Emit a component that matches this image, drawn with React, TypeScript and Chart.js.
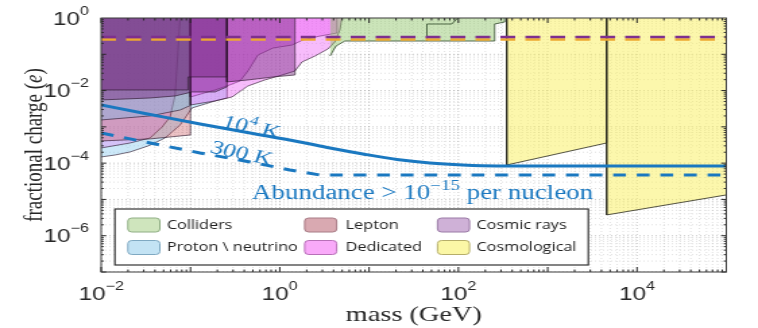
import React, { useEffect, useRef } from 'react';
import { Chart, registerables } from 'chart.js';

Chart.register(...registerables);

// The reference figure is horizontally stretched; draw narrow, then stretch.
const OUT_W = 758;
const H = 328;
const W = 562;

const X_MIN = 1e-2, X_MAX = 1e5, Y_MIN = 1e-7, Y_MAX = 1;
const xTickExponents = [-2, 0, 2, 4];
const yTickExponents = [0, -2, -4, -6];

// ---- Regions (lower boundary, excluded area above) ----
const collidersMass = [3.65, 4.26, 5.36, 255, 255, 330, 330];
const collidersCharge = [0.0897, 0.169, 0.232, 0.232, 0.684, 0.776, 1];
const collidersInnerMass = [44.4, 44.4, 84.3, 98.4];
const collidersInnerCharge = [0.232, 0.684, 0.684, 1];

const protonMassA = [0.01, 0.0144, 0.0211, 0.0336, 0.052, 0.0766, 0.104, 0.146, 0.188, 0.256, 0.256];
const protonChargeA = [1.48e-4, 1.68e-4, 2.04e-4, 2.98e-4, 4.94e-4, 1.13e-3, 3.32e-3, 4.27e-3, 5.17e-3, 6.25e-3, 1];
const protonMassB = [0.01, 0.0353, 0.0766, 0.1, 0.1];
const protonChargeB = [1.55e-3, 2.0e-3, 2.92e-3, 3.9e-3, 1];

const leptonMass = [0.01, 0.0353, 0.1, 0.1];
const leptonCharge = [4.09e-4, 4.65e-4, 5.98e-4, 1];

const dedicatedMassA = [0.01, 0.0211, 0.0353, 0.0481, 0.0592, 0.0673, 0.0726, 0.0766];
const dedicatedChargeA = [2.62e-4, 3.6e-4, 4.94e-4, 9.93e-4, 1.87e-3, 7.57e-3, 0.131, 1];
const dedicatedMassB = [0.1, 0.1, 0.188, 0.256, 0.359, 0.44, 0.57, 0.84, 1.37, 1.82, 2.82, 4.37, 4.37];
const dedicatedChargeB = [1, 6.67e-3, 0.0104, 0.0134, 0.0184, 0.0347, 0.0957, 0.149, 0.18, 0.248, 0.319, 0.386, 1];
const dedicatedMassC = [0.1, 0.1, 0.188, 0.292, 0.44, 0.68, 1.06, 1.48, 1.77, 2.48, 3.46, 4.14, 4.71, 4.97];
const dedicatedChargeC = [1, 4.01e-3, 5.17e-3, 6.67e-3, 1.34e-2, 1.96e-2, 2.69e-2, 3.47e-2, 6.14e-2, 8.97e-2, 0.14, 0.218, 0.467, 1];

const cosmicMassA = [0.01, 0.094, 0.094, 0.256, 0.256];
const cosmicChargeA = [0.0104, 0.0104, 0.0237, 0.0237, 1];
const cosmicMassB = [0.01, 0.0353, 0.0673, 0.104, 0.188, 0.256, 0.256];
const cosmicChargeB = [5.51e-3, 6.25e-3, 7.1e-3, 9.14e-3, 9.14e-3, 0.0126, 1];
const cosmicMassC = [0.256, 0.256, 0.44, 0.84, 1.48, 1.48];
const cosmicChargeC = [1, 0.0173, 0.0196, 0.0237, 0.0269, 1];

const cosmoMassA = [348, 348, 4570, 4570];
const cosmoChargeA = [1, 8.9e-5, 3.6e-4, 1];
const cosmoMassB = [4570, 4570, 1e5];
const cosmoChargeB = [1, 3.74e-6, 1.33e-5];

// ---- Abundance lines ----
const tenKMass = [0.01, 0.0353, 0.128, 0.465, 1.68, 3.65, 8.53, 20.5, 47.9, 112, 269, 1e5];
const tenKCharge = [4.01e-3, 2.2e-3, 1.2e-3, 6.79e-4, 3.84e-4, 2.62e-4, 1.79e-4, 1.26e-4, 1.01e-4, 8.9e-5, 8.4e-5, 8.4e-5];
const threeHundredKMass = [0.01, 0.0353, 0.128, 0.465, 1.3, 2.82, 1e5];
const threeHundredKCharge = [6.79e-4, 3.6e-4, 1.91e-4, 1.08e-4, 6.5e-5, 4.7e-5, 4.7e-5];
const fullMassSpan = [0.01, 1e5];
const dashedPurpleCharge = [0.3, 0.3];
const dashedOrangeCharge = [0.256, 0.256];

const legendRows = [
  ['Colliders', 'Lepton', 'Cosmic rays'],
  ['Proton \\ neutrino', 'Dedicated', 'Cosmological'],
];

const SANS = '"Liberation Sans", Arial, sans-serif';
const SERIF = '"Liberation Serif", "Times New Roman", serif';
const LEGEND_FONT = '"Open Sans", sans-serif';
const INK = '#262626';
const BLUE = '#1a78c0';

const FILL = {
  colliders: 'rgba(140,195,100,0.45)',
  proton: 'rgba(110,190,235,0.35)',
  lepton: 'rgba(200,80,90,0.35)',
  dedicatedLow: 'rgba(235,80,245,0.25)',
  dedicated: 'rgba(235,80,245,0.38)',
  cosmic: 'rgba(110,30,120,0.42)',
  cosmo: 'rgba(250,240,90,0.5)',
};
const SWATCH: Record<string, [string, string]> = {
  'Colliders': ['#cfe5bd', '#8fae84'],
  'Proton \\ neutrino': ['#c3e3f4', '#7fa9c2'],
  'Lepton': ['#d9a9b1', '#a87c86'],
  'Dedicated': ['#f9aaf9', '#b870b8'],
  'Cosmic rays': ['#cfb1d7', '#9a7aa6'],
  'Cosmological': ['#fbf7a6', '#b6ae6a'],
};

type Piece = { t: string; sup?: boolean; italic?: boolean };

function drawPieces(ctx: any, pieces: Piece[], x: number, y: number, size: number, family: string,
  align: 'left' | 'center' | 'right', color: string, supRatio = 0.68, supRise = 0.45) {
  const supSize = Math.round(size * supRatio);
  const fontOf = (p: Piece) => `${p.italic ? 'italic ' : ''}${p.sup ? supSize : size}px ${family}`;
  let total = 0;
  const widths = pieces.map((p) => {
    ctx.font = fontOf(p);
    const w = ctx.measureText(p.t).width;
    total += w;
    return w;
  });
  let cx = align === 'left' ? x : align === 'center' ? x - total / 2 : x - total;
  ctx.fillStyle = color;
  ctx.textAlign = 'left';
  ctx.textBaseline = 'alphabetic';
  pieces.forEach((p, i) => {
    ctx.font = fontOf(p);
    ctx.fillText(p.t, cx, p.sup ? y - size * supRise : y);
    cx += widths[i];
  });
}

const supLabel = (e: number): Piece[] => [{ t: '10' }, { t: e < 0 ? `\u2212${-e}` : `${e}`, sup: true }];

export default function App() {
  const ref = useRef<HTMLCanvasElement>(null);

  useEffect(() => {
    const canvas = ref.current!;
    const pts = (xs: number[], ys: number[]) => xs.map((x, i) => ({ x, y: ys[i] }));
    const region = (label: string, xs: number[], ys: number[], fill: string, border: string) => ({
      label, data: pts(xs, ys), fill: 'end', backgroundColor: fill, borderColor: border,
      borderWidth: 1, pointRadius: 0, tension: 0,
    });
    const edge = 'rgba(40,20,40,0.62)';
    const line = (label: string, xs: number[], ys: number[], color: string, width: number, dash: number[] | null, smooth = false) => ({
      label, data: pts(xs, ys), fill: false, borderColor: color, borderWidth: width,
      borderDash: dash || [], pointRadius: 0, tension: 0,
      cubicInterpolationMode: smooth ? 'monotone' : 'default',
      borderCapStyle: 'butt',
    });

    // bottom -> top
    const layers: any[] = [
      region('Cosmological A', cosmoMassA, cosmoChargeA, FILL.cosmo, 'rgba(40,40,30,0.8)'),
      region('Cosmological B', cosmoMassB, cosmoChargeB, FILL.cosmo, 'rgba(40,40,30,0.8)'),
      region('Proton A', protonMassA, protonChargeA, FILL.proton, edge),
      region('Dedicated A', dedicatedMassA, dedicatedChargeA, FILL.dedicatedLow, edge),
      region('Lepton', leptonMass, leptonCharge, FILL.lepton, edge),
      region('Proton B', protonMassB, protonChargeB, FILL.proton, edge),
      region('Dedicated B', dedicatedMassB, dedicatedChargeB, FILL.dedicated, edge),
      region('Dedicated C', dedicatedMassC, dedicatedChargeC, FILL.dedicated, edge),
      region('Cosmic B', cosmicMassB, cosmicChargeB, FILL.cosmic, edge),
      region('Cosmic A', cosmicMassA, cosmicChargeA, FILL.cosmic, edge),
      region('Cosmic C', cosmicMassC, cosmicChargeC, FILL.cosmic, edge),
      region('Colliders', collidersMass, collidersCharge, FILL.colliders, 'rgba(35,60,30,0.75)'),
      line('Colliders inner', collidersInnerMass, collidersInnerCharge, 'rgba(35,60,30,0.75)', 1, null),
      line('1/3 orange', fullMassSpan, dashedOrangeCharge, '#EDA830', 2.4, [11, 7.5]),
      line('1/3 purple', fullMassSpan, dashedPurpleCharge, '#7E2F8E', 2.4, [11, 7.5]),
      line('300 K', threeHundredKMass, threeHundredKCharge, BLUE, 3, [9.5, 8]),
      line('1e4 K', tenKMass, tenKCharge, BLUE, 3, null, true),
    ];
    const datasets = layers.slice().reverse();

    const overlay = {
      id: 'overlay',
      beforeDatasetsDraw(chart: any) {
        const { ctx, chartArea: a, scales } = chart;
        const xs = scales.x, ys = scales.y;
        ctx.save();
        ctx.beginPath();
        ctx.rect(a.left, a.top, a.right - a.left, a.bottom - a.top);
        ctx.clip();
        ctx.lineWidth = 1;
        ctx.setLineDash([1, 2]);
        for (let e = -2; e <= 4; e++) {
          for (let k = 1; k <= 9; k++) {
            const px = xs.getPixelForValue(k * Math.pow(10, e));
            ctx.strokeStyle = k === 1 ? 'rgba(0,0,0,0.22)' : 'rgba(0,0,0,0.13)';
            ctx.beginPath(); ctx.moveTo(px, a.top); ctx.lineTo(px, a.bottom); ctx.stroke();
          }
        }
        for (let e = -7; e <= -1; e++) {
          for (let k = 1; k <= 9; k++) {
            const py = ys.getPixelForValue(k * Math.pow(10, e));
            ctx.strokeStyle = k === 1 ? 'rgba(0,0,0,0.22)' : 'rgba(0,0,0,0.13)';
            ctx.beginPath(); ctx.moveTo(a.left, py); ctx.lineTo(a.right, py); ctx.stroke();
          }
        }
        ctx.restore();
      },
      afterDatasetsDraw(chart: any) {
        const { ctx, chartArea: a, scales } = chart;
        const xs = scales.x, ys = scales.y;
        ctx.save();
        // tick marks (inside, all sides)
        ctx.strokeStyle = INK;
        ctx.lineWidth = 1;
        ctx.setLineDash([]);
        for (let e = -2; e <= 4; e++) {
          for (let k = 1; k <= 9; k++) {
            const px = xs.getPixelForValue(k * Math.pow(10, e));
            const len = k === 1 ? 5 : 2.5;
            ctx.beginPath();
            ctx.moveTo(px, a.bottom); ctx.lineTo(px, a.bottom - len);
            ctx.moveTo(px, a.top); ctx.lineTo(px, a.top + len);
            ctx.stroke();
          }
        }
        for (let e = -7; e <= -1; e++) {
          for (let k = 1; k <= 9; k++) {
            const py = ys.getPixelForValue(k * Math.pow(10, e));
            const len = k === 1 ? 3.7 : 1.9;
            ctx.beginPath();
            ctx.moveTo(a.left, py); ctx.lineTo(a.left + len, py);
            ctx.moveTo(a.right, py); ctx.lineTo(a.right - len, py);
            ctx.stroke();
          }
        }
        // box
        ctx.strokeStyle = '#3a3a3a';
        ctx.strokeRect(a.left, a.top, a.right - a.left, a.bottom - a.top);

        // tick labels
        xTickExponents.forEach((e) => {
          const px = xs.getPixelForValue(Math.pow(10, e));
          drawPieces(ctx, supLabel(e), px, a.bottom + 28, 18, SANS, 'center', INK, 0.68, 0.55);
        });
        yTickExponents.forEach((e) => {
          const py = ys.getPixelForValue(Math.pow(10, e));
          drawPieces(ctx, supLabel(e), a.left - 9, py + 6.5, 18, SANS, 'right', INK, 0.68, 0.55);
        });

        // axis titles
        drawPieces(ctx, [{ t: 'mass (GeV)' }], (a.left + a.right) / 2, 321, 21, SERIF, 'center', INK);
        ctx.save();
        ctx.translate(26, (a.top + a.bottom) / 2);
        ctx.rotate(-Math.PI / 2);
        drawPieces(ctx, [{ t: 'fractional charge (' }, { t: 'e', italic: true }, { t: ')' }], 0, 5, 19, SERIF, 'center', INK);
        ctx.restore();

        // annotations
        const ang = (16 * Math.PI) / 180;
        ctx.save();
        ctx.translate(186.7, 126.5);
        ctx.rotate(ang);
        drawPieces(ctx, [{ t: '10' }, { t: '4', sup: true }, { t: ' K' }], 0, 6.5, 19, SERIF, 'center', BLUE);
        ctx.restore();
        ctx.save();
        ctx.translate(179.3, 152.5);
        ctx.rotate(ang);
        drawPieces(ctx, [{ t: '300 K' }], 0, 6.5, 19, SERIF, 'center', BLUE);
        ctx.restore();
        drawPieces(ctx, [{ t: 'Abundance > 10' }, { t: '\u221215', sup: true }, { t: ' per nucleon' }],
          186.7, 198.5, 20, SERIF, 'left', BLUE);

        // legend
        const lx = 85.2, ly = 209, lw = 351, lh = 56;
        ctx.fillStyle = '#ffffff';
        ctx.fillRect(lx, ly, lw, lh);
        ctx.strokeStyle = '#333333';
        ctx.lineWidth = 1.2;
        ctx.strokeRect(lx, ly, lw, lh);
        const swX = [94.8, 225.9, 324.4];
        const txX = [123.7, 256.3, 353.3];
        const rowY = [225, 247.5];
        legendRows.forEach((row, r) => {
          row.forEach((label, c) => {
            const [fill, border] = SWATCH[label];
            ctx.beginPath();
            (ctx as any).roundRect(swX[c], rowY[r] - 7, 23.7, 14, 3);
            ctx.fillStyle = fill;
            ctx.fill();
            ctx.strokeStyle = border;
            ctx.lineWidth = 1;
            ctx.stroke();
            ctx.fillStyle = '#222';
            ctx.font = `12px ${LEGEND_FONT}`;
            ctx.textAlign = 'left';
            ctx.textBaseline = 'middle';
            ctx.fillText(label, txX[c], rowY[r] + 0.5);
          });
        });
        ctx.restore();
      },
    };

    const chart = new Chart(canvas, {
      type: 'line',
      data: { datasets },
      options: {
        animation: false,
        responsive: false,
        maintainAspectRatio: false,
        devicePixelRatio: 1,
        layout: { padding: { top: 18, right: W - 538.5, left: 0, bottom: 0 } },
        plugins: { legend: { display: false }, tooltip: { enabled: false }, title: { display: false } },
        events: [],
        scales: {
          x: {
            type: 'logarithmic', min: X_MIN, max: X_MAX,
            ticks: { display: false }, grid: { display: false, drawTicks: false }, border: { display: false },
            afterFit: (s: any) => { s.height = 56; },
          },
          y: {
            type: 'logarithmic', min: Y_MIN, max: Y_MAX,
            ticks: { display: false }, grid: { display: false, drawTicks: false }, border: { display: false },
            afterFit: (s: any) => { s.width = 75; },
          },
        },
      } as any,
      plugins: [overlay],
    } as any);
    return () => chart.destroy();
  }, []);

  return (
    <div style={{ position: 'fixed', left: 0, top: 0, width: OUT_W, height: H, overflow: 'hidden', background: '#fff' }}>
      <div style={{ width: W, height: H, transform: `scaleX(${OUT_W / W})`, transformOrigin: '0 0' }}>
        <canvas ref={ref} width={W} height={H} style={{ display: 'block', width: W, height: H }} />
      </div>
    </div>
  );
}
